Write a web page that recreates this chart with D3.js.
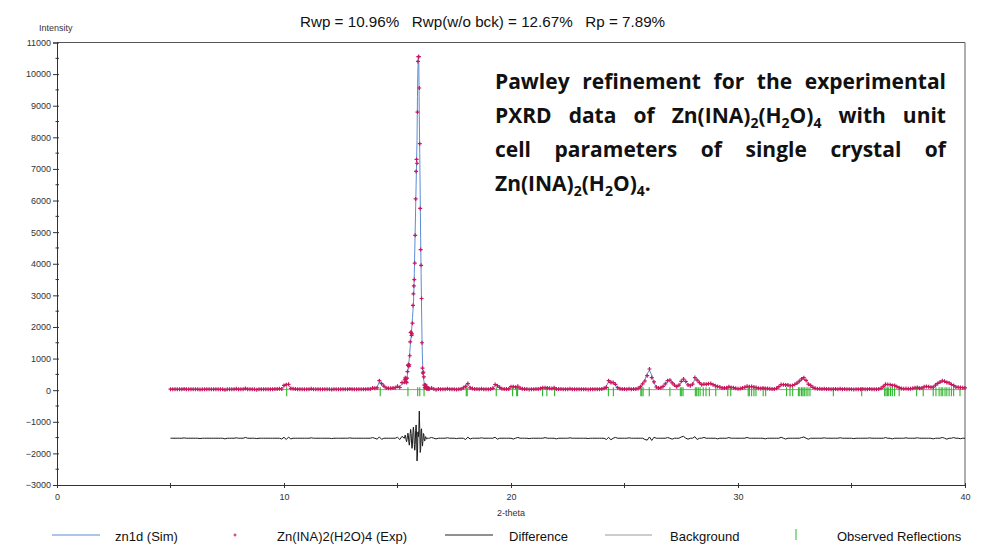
<!DOCTYPE html>
<html><head><meta charset="utf-8">
<script src="https://cdn.jsdelivr.net/npm/d3@7"></script>
<style>body{margin:0;background:#fff}svg{display:block}</style>
</head><body><svg id="c" width="985" height="545"></svg>
<script>
// ---------- DATA ----------
const titleText = "Rwp = 10.96%\u00a0\u00a0\u00a0Rwp(w/o bck) = 12.67%\u00a0\u00a0\u00a0Rp = 7.89%";
const yTicks = [11000,10000,9000,8000,7000,6000,5000,4000,3000,2000,1000,0,-1000,-2000,-3000];
const xTickLabels = [0,10,20,30,40];
const coarseStart = 5.0, coarseStep = 0.1;
const simCoarse = [
 32,30,31,29,30,31,30,29,30,31,
 30,29,31,30,30,29,31,30,29,30,
 31,30,29,30,31,30,30,29,31,30,
 30,31,30,29,30,31,30,30,29,31,
 30,30,31,30,31,32,34,38,46,62,
 120,215,150,75,45,36,33,31,30,30,
 30,31,30,29,30,31,30,30,31,30,
 30,30,31,30,29,30,31,30,30,31,
 31,30,30,31,30,31,32,34,38,46,
 62,100,260,240,130,70,58,60,68,80,
 95,125,180,250,350,870,1690,2700,5800,10200,
 6200,950,170,70,45,40,37,35,34,33,
 32,32,31,32,31,32,31,32,40,75,
 160,175,100,52,38,34,32,31,31,32,
 33,35,60,150,170,90,48,38,35,40,
 110,135,95,100,65,42,36,34,33,33,
 33,34,38,55,80,60,72,58,52,75,
 55,38,34,33,32,32,33,32,31,32,
 32,31,32,33,32,31,32,32,31,32,
 40,60,130,270,290,240,160,80,45,36,
 34,33,32,33,34,38,55,110,200,330,
 520,630,470,230,100,65,75,120,200,280,
 315,260,160,110,160,240,290,275,195,140,
 190,350,355,240,175,170,185,205,210,175,
 140,135,100,70,65,75,85,88,78,60,
 48,52,70,90,100,110,115,100,85,62,
 55,65,70,55,42,38,40,60,110,150,
 175,190,160,140,150,180,225,285,335,355,
 310,220,150,90,60,48,42,38,36,34,
 34,33,33,34,33,32,33,34,33,32,
 32,33,32,31,32,34,33,32,31,32,
 32,33,38,60,120,165,180,175,170,150,
 110,80,55,45,40,42,48,60,75,72,
 58,70,105,118,105,95,115,160,215,255,
 270,280,275,230,180,130,100,90,100,80,
 70];
const fineStart = 15.30, fineStep = 0.02;
const simFine = [
 250,270,290,300,320,350,420,510,620,740,
 870,1020,1190,1380,1540,1690,1880,2100,2300,2500,
 2700,3100,3700,4400,5100,5800,6500,7200,7900,9300,
 10200,10500,10300,8700,7500,6200,4800,3700,2600,1600,
 950,620,420,300,220,170,140,115,95,80,
 70,62,56,52,48,45];
const diffFine = [
 0,60,100,40,-60,-110,-40,80,160,70,
 -120,-220,-100,150,280,150,-150,-320,-180,180,
 350,200,-200,-380,-200,250,420,100,-720,-500,
 200,50,250,860,300,-450,-350,250,300,-100,
 -250,-80,150,120,-60,-90,0,50,20,-20,
 -30,0,10,0,0,0];
const diffCoarse = [[5.6,10],[6.3,-10],[7.4,-20],[7.9,12],[8.3,25],[8.8,-12],[9.9,-25],[10.0,30],[10.1,-40],[10.2,35],[10.3,-20],[11.2,12],[12.1,-10],[12.9,10],[13.9,20],[14.1,-30],[14.2,40],[14.3,-35],[15.0,30],[15.1,-40],[15.2,60],[16.5,25],[16.7,-20],[17.2,15],[17.6,-12],[18.0,-40],[18.1,35],[18.2,-25],[18.7,12],[19.3,30],[19.4,-30],[20.1,-25],[20.3,25],[20.8,-12],[21.5,20],[22.0,-20],[22.6,12],[23.4,-10],[24.2,-40],[24.3,30],[24.4,-50],[24.6,25],[25.2,12],[25.9,-40],[26.0,-60],[26.1,40],[26.2,-70],[26.3,30],[26.9,20],[27.1,-30],[27.5,40],[27.6,60],[27.8,-30],[28.1,50],[28.2,-40],[28.5,25],[29.1,-20],[29.6,20],[30.4,25],[31.2,-20],[31.9,30],[32.1,-25],[32.8,20],[32.9,40],[33.1,-30],[33.8,12],[34.5,15],[35.1,-12],[35.8,10],[36.5,20],[36.8,-20],[37.4,12],[37.9,15],[38.6,-20],[39.0,25],[39.2,-30],[39.5,20],[39.8,-15]];
const diffOffset = -1520;
const background = [[5,18],[10,18],[15,18],[20,18],[25,18],[30,18],[35,18],[40,18]];
const reflections = [10.12,14.24,15.46,15.89,15.98,16.17,18.03,18.07,19.35,20.07,20.25,20.29,21.39,21.58,21.92,24.29,24.51,25.72,25.76,25.82,26.09,27.0,27.46,27.52,27.58,28.12,28.18,28.25,28.33,28.47,28.59,28.74,29.02,29.55,29.68,30.45,30.5,30.6,30.7,30.79,31.11,31.22,32.14,32.29,32.41,32.66,32.72,32.8,32.86,32.92,33.0,33.08,33.17,34.2,35.45,36.46,36.52,36.58,36.64,36.72,36.8,36.9,37.1,37.87,38.16,38.6,38.72,38.86,38.95,39.02,39.12,39.2,39.3,39.4,39.5,39.78];
const legendItems = ["zn1d (Sim)","Zn(INA)2(H2O)4 (Exp)","Difference","Background","Observed Reflections"];
// annotation: lines of words; each word = segments [text, isSub]
const noteLines = [
 [[["Pawley"]],[["refinement"]],[["for"]],[["the"]],[["experimental"]]],
 [[["PXRD"]],[["data"]],[["of"]],[["Zn(INA)"],["2",1],["(H"],["2",1],["O)"],["4",1]],[["with"]],[["unit"]]],
 [[["cell"]],[["parameters"]],[["of"]],[["single"]],[["crystal"]],[["of"]]],
 [[["Zn(INA)"],["2",1],["(H"],["2",1],["O)"],["4",1],["."]]]
];

// ---------- BUILD ----------
const pts = [];
simCoarse.forEach((v,i)=>{
  const x = +(coarseStart + i*coarseStep).toFixed(2);
  if (x < 15.29 || x > 16.41) pts.push({x, sim:v, d:0});
});
const dMap = new Map(diffCoarse.map(d=>[d[0].toFixed(1), d[1]]));
pts.forEach(p=>{ const k=p.x.toFixed(1); if(dMap.has(k)) p.d = dMap.get(k); });
simFine.forEach((v,i)=>{
  pts.push({x: +(fineStart + i*fineStep).toFixed(2), sim:v, d:diffFine[i]});
});
pts.sort((a,b)=>a.x-b.x);
pts.forEach(p=>{ p.exp = p.sim + p.d; });

const svg = d3.select("#c");
const font = "'Liberation Sans', Arial, sans-serif";
const x = d3.scaleLinear().domain([0,40]).range([57,965]);
const y = d3.scaleLinear().domain([-3000,11000]).range([485,42.5]);

// frame
svg.append("line").attr("x1",57).attr("x2",965).attr("y1",y(11000)).attr("y2",y(11000)).attr("stroke","#555").attr("stroke-width",1);
svg.append("line").attr("x1",x(40)).attr("x2",x(40)).attr("y1",y(11000)).attr("y2",y(-3000)).attr("stroke","#777").attr("stroke-width",1.2);

// y axis
const yAxis = d3.axisLeft(y).tickValues(yTicks).tickSize(4).tickPadding(2).tickFormat(d3.format("d"));
const gy = svg.append("g").attr("transform","translate(57,0)").call(yAxis);
gy.select(".domain").attr("stroke","#333");
gy.selectAll(".tick line").attr("stroke","#333").attr("x2",-4).attr("x1",2);
gy.selectAll("text").attr("font-family",font).attr("font-size",9).attr("fill","#333");
const minorY = d3.range(-2500,11000,1000);
svg.append("g").selectAll("line").data(minorY).join("line")
  .attr("x1",55.5).attr("x2",59).attr("y1",d=>y(d)).attr("y2",d=>y(d)).attr("stroke","#333");

// x axis
const xAxis = d3.axisBottom(x).tickValues(xTickLabels).tickSize(3).tickPadding(6).tickFormat(d3.format("d"));
const gx = svg.append("g").attr("transform",`translate(0,${y(-3000)})`).call(xAxis);
gx.select(".domain").attr("stroke","#333");
gx.selectAll(".tick line").attr("stroke","#333").attr("y1",-2);
gx.selectAll("text").attr("font-family",font).attr("font-size",9).attr("fill","#333");
svg.append("g").selectAll("line").data([5,15,25,35]).join("line")
  .attr("x1",d=>x(d)).attr("x2",d=>x(d)).attr("y1",y(-3000)-2).attr("y2",y(-3000)+3).attr("stroke","#333");

svg.append("text").attr("x",39).attr("y",31).attr("font-family",font).attr("font-size",9).attr("fill","#333").text("Intensity");
svg.append("text").attr("x",x(20)).attr("y",516).attr("text-anchor","middle").attr("font-family",font).attr("font-size",9).attr("fill","#333").text("2-theta");
svg.append("text").attr("x",300).attr("y",27).attr("font-family",font).attr("font-size",15.2).attr("fill","#111").text(titleText);

// background
svg.append("path").datum(background).attr("fill","none").attr("stroke","#9a9a9a").attr("stroke-width",1)
  .attr("d", d3.line().x(d=>x(d[0])).y(d=>y(d[1])));
// reflections
svg.append("g").selectAll("line").data(reflections).join("line")
  .attr("x1",d=>x(d)).attr("x2",d=>x(d)).attr("y1",y(0)-3).attr("y2",y(0)+6)
  .attr("stroke","#2db52d").attr("stroke-width",1.1);
// difference
svg.append("path").datum(pts).attr("fill","none").attr("stroke","#1a1a1a").attr("stroke-width",1)
  .attr("d", d3.line().x(d=>x(d.x)).y(d=>y(diffOffset + d.d)));
// simulated
svg.append("path").datum(pts).attr("fill","none").attr("stroke","#5b8bd6").attr("stroke-width",1)
  .attr("d", d3.line().x(d=>x(d.x)).y(d=>y(d.sim)));
// experimental markers
svg.append("g").selectAll("path").data(pts).join("path")
  .attr("transform",d=>`translate(${x(d.x)},${y(d.exp)})`)
  .attr("d","M-2,0H2M0,-2V2").attr("stroke","#c8175c").attr("stroke-width",1.2);

// legend
const lg = svg.append("g").attr("font-family",font).attr("font-size",13).attr("fill","#111");
lg.append("line").attr("x1",52).attr("x2",100).attr("y1",535).attr("y2",535).attr("stroke","#5b8bd6");
lg.append("text").attr("x",115).attr("y",541).text(legendItems[0]);
lg.append("path").attr("transform","translate(235,535)").attr("d","M-1.5,0H1.5M0,-1.5V1.5").attr("stroke","#c8175c");
lg.append("text").attr("x",277).attr("y",541).text(legendItems[1]);
lg.append("line").attr("x1",445).attr("x2",493).attr("y1",535).attr("y2",535).attr("stroke","#222").attr("stroke-width",1.2);
lg.append("text").attr("x",509).attr("y",541).text(legendItems[2]);
lg.append("line").attr("x1",605).attr("x2",652).attr("y1",535).attr("y2",535).attr("stroke","#9a9a9a");
lg.append("text").attr("x",670).attr("y",541).text(legendItems[3]);
lg.append("line").attr("x1",796).attr("x2",796).attr("y1",529).attr("y2",540).attr("stroke","#2db52d");
lg.append("text").attr("x",837).attr("y",541).text(legendItems[4]);

// annotation (justified)
const noteLeft = 495, noteRight = 946, noteBase = [89,123,157,191];
const ng = svg.append("g").attr("font-family","'Open Sans', Lato, sans-serif").attr("font-weight","bold").attr("font-size",21).attr("fill","#111");
noteLines.forEach((words,li)=>{
  const els = words.map(w=>{
    const t = ng.append("text").attr("y",noteBase[li]);
    let prevSub = false;
    w.forEach(seg=>{
      const s = !!seg[1];
      const ts = t.append("tspan").text(seg[0]);
      if (s) ts.attr("font-size",14);
      ts.attr("dy", s && !prevSub ? 5 : (!s && prevSub ? -5 : 0));
      prevSub = s;
    });
    return t;
  });
  const widths = els.map(e=>e.node().getComputedTextLength());
  const total = d3.sum(widths);
  const last = li === noteLines.length-1;
  const gap = (!last && els.length>1) ? Math.max(4,(noteRight-noteLeft-total)/(els.length-1)) : 6;
  let cx = noteLeft;
  els.forEach((e,i)=>{ e.attr("x",cx); cx += widths[i] + gap; });
});
</script></body></html>
